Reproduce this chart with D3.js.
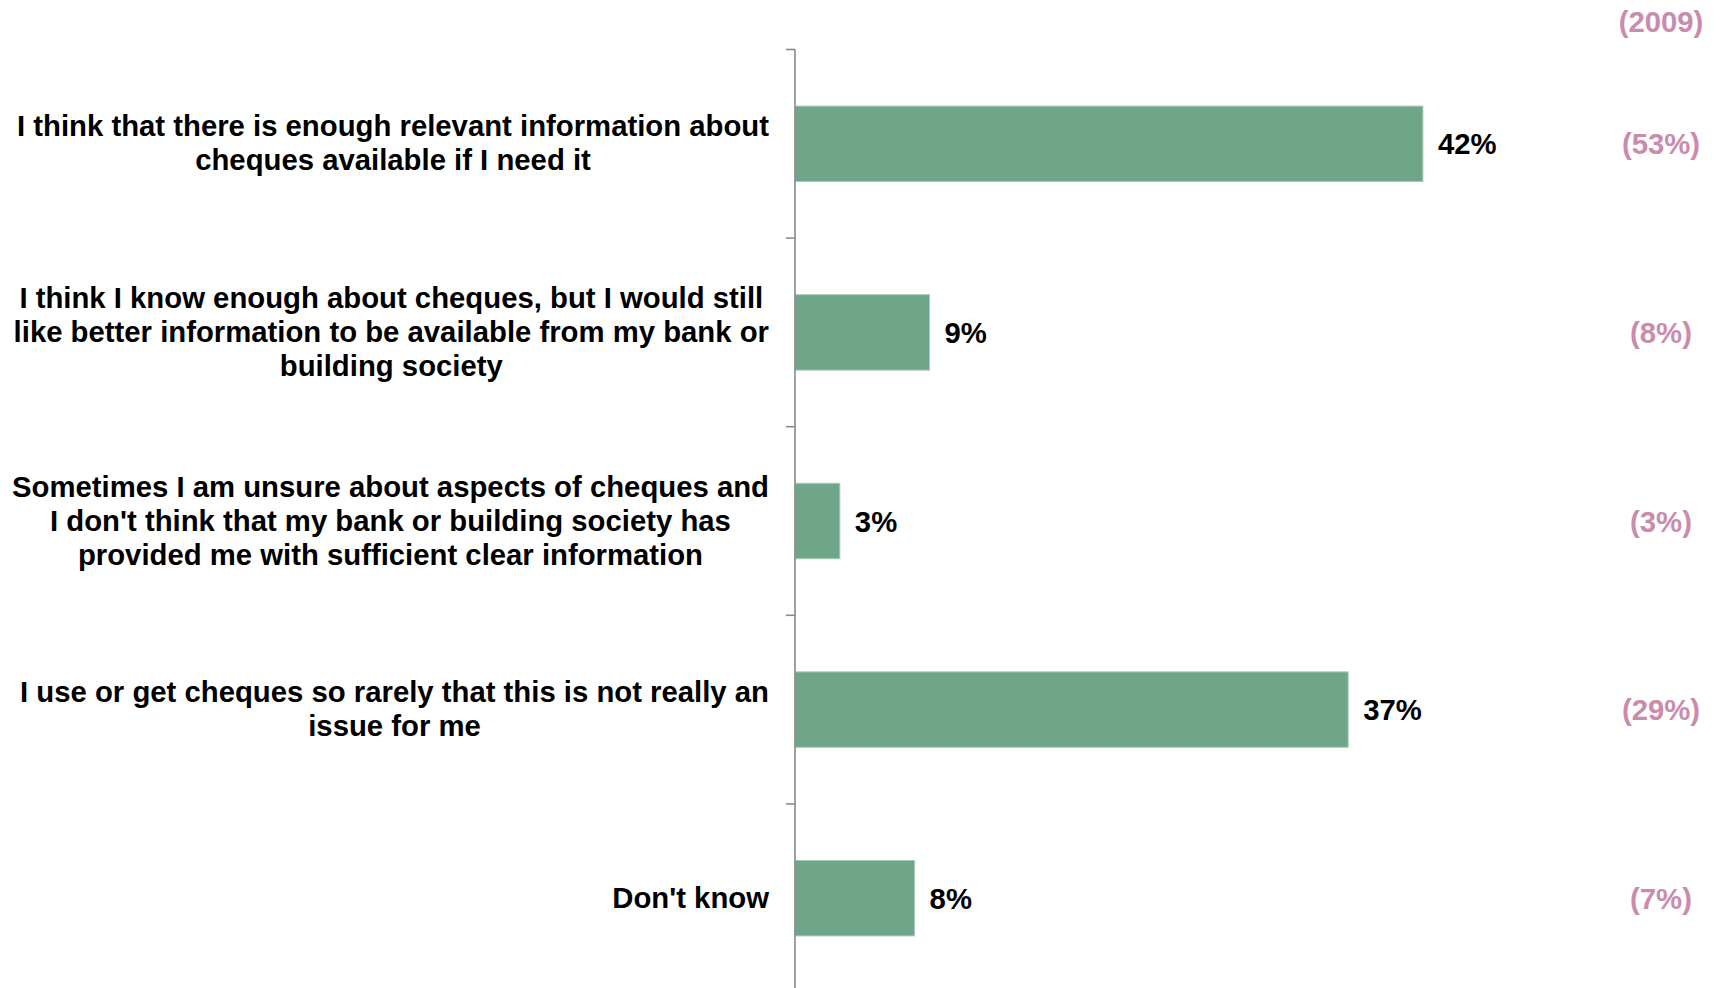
<!DOCTYPE html>
<html>
<head>
<meta charset="utf-8">
<script src="https://cdn.jsdelivr.net/npm/d3@7"></script>
<style>
  html, body { margin: 0; padding: 0; background: #ffffff; }
  svg { display: block; }
  text { font-family: "Liberation Sans", Arial, Helvetica, sans-serif; font-weight: bold; }
</style>
</head>
<body>
<svg id="chart" width="1721" height="988"></svg>
<script>
// Survey statements (each entry split into its display lines)
const categories = [
  ["I think that there is enough relevant information about", "cheques available if I need it"],
  ["I think I know enough about cheques, but I would still", "like better information to be available from my bank or", "building society"],
  ["Sometimes I am unsure about aspects of cheques and", "I don't think that my bank or building society has", "provided me with sufficient clear information"],
  ["I use or get cheques so rarely that this is not really an", "issue for me"],
  ["Don't know"]
];
// Current-year share of respondents (%)
const values = [42, 9, 3, 37, 8];
// Previous-year comparison (%)
const priorYearLabel = "(2009)";
const priorValues = [53, 8, 3, 29, 7];

const svg = d3.select("#chart");
const axisX = 795;
const fontSize = 29.3;

const ids = d3.range(categories.length);

const y = d3.scaleBand()
  .domain(ids)
  .range([49.5, 992.5])
  .paddingInner(0.6)
  .paddingOuter(0.3);

const x = d3.scaleLinear()
  .domain([0, 60])
  .range([axisX, axisX + 897]);

// Bars
svg.append("g").selectAll("rect")
  .data(ids)
  .join("rect")
  .attr("x", x(0))
  .attr("y", i => y(i))
  .attr("width", i => x(values[i]) - x(0))
  .attr("height", y.bandwidth())
  .attr("fill", "#6fa589")
  .attr("stroke", "#a9cbb9")
  .attr("stroke-width", 1);

// Category axis: vertical line with ticks at band boundaries
const step = y.step();
const y0 = y.range()[0];
const axisG = svg.append("g");
axisG.append("line")
  .attr("x1", axisX).attr("x2", axisX)
  .attr("y1", y0).attr("y2", y.range()[1])
  .attr("stroke", "#8a8a8a").attr("stroke-width", 1.6);
axisG.selectAll("line.tick")
  .data(d3.range(categories.length + 1))
  .join("line")
  .attr("class", "tick")
  .attr("x1", axisX - 9).attr("x2", axisX)
  .attr("y1", k => y0 + k * step).attr("y2", k => y0 + k * step)
  .attr("stroke", "#8a8a8a").attr("stroke-width", 1.6);

// Category labels: block right-aligned to the axis, lines centred within block
const labelRight = 769;
const lineH = 34;
const labels = svg.append("g");
ids.forEach(i => {
  const lines = categories[i];
  const g = labels.append("g");
  const texts = g.selectAll("text")
    .data(lines)
    .join("text")
    .attr("font-size", fontSize)
    .attr("fill", "#000")
    .attr("text-anchor", "middle")
    .text(d => d);
  let maxW = 0;
  texts.each(function() { maxW = Math.max(maxW, this.getComputedTextLength()); });
  const cx = labelRight - maxW / 2;
  const cy = y(i) + y.bandwidth() / 2 - 1;
  const n = lines.length;
  texts
    .attr("x", cx)
    .attr("y", (d, k) => cy + (k - (n - 1) / 2) * lineH)
    .attr("dy", "0.36em");
});

// Value labels at bar ends
svg.append("g").selectAll("text")
  .data(ids)
  .join("text")
  .attr("x", i => x(values[i]) + 15)
  .attr("y", i => y(i) + y.bandwidth() / 2)
  .attr("dy", "0.36em")
  .attr("font-size", fontSize)
  .attr("fill", "#000")
  .text(i => values[i] + "%");

// Prior-year comparison column
const priorX = 1661;
const priorColor = "#c98cad";
svg.append("text")
  .attr("x", priorX)
  .attr("y", 21.5)
  .attr("dy", "0.36em")
  .attr("text-anchor", "middle")
  .attr("font-size", fontSize)
  .attr("fill", priorColor)
  .text(priorYearLabel);
svg.append("g").selectAll("text")
  .data(ids)
  .join("text")
  .attr("x", priorX)
  .attr("y", i => y(i) + y.bandwidth() / 2)
  .attr("dy", "0.36em")
  .attr("text-anchor", "middle")
  .attr("font-size", fontSize)
  .attr("fill", priorColor)
  .text(i => "(" + priorValues[i] + "%)");
</script>
</body>
</html>
